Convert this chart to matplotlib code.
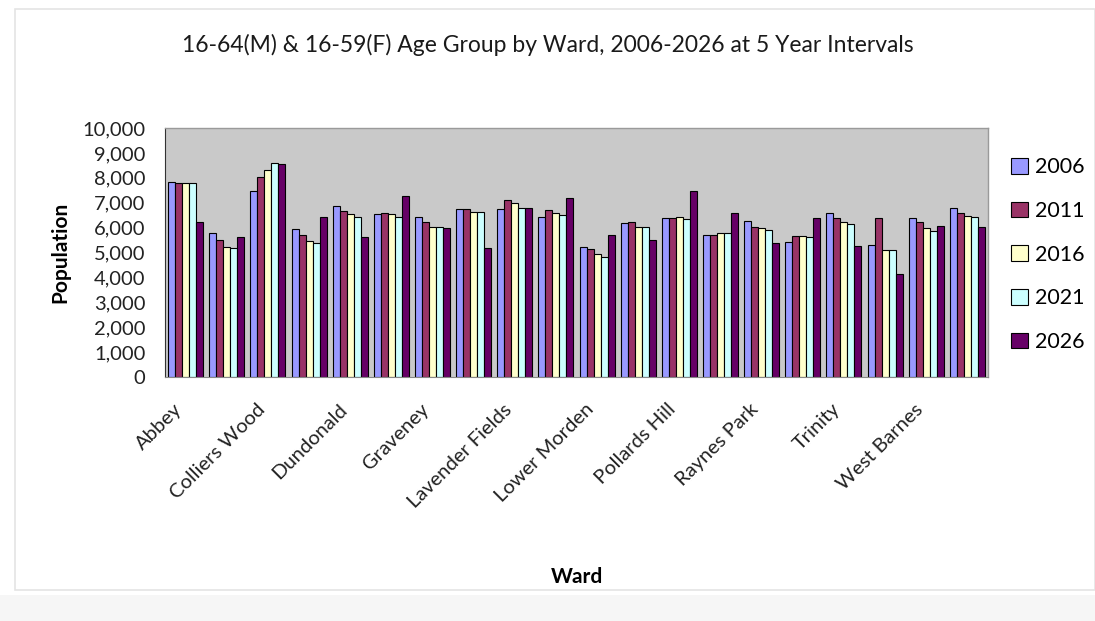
import numpy as np
import matplotlib
matplotlib.use("Agg")
import matplotlib.pyplot as plt
from matplotlib.patches import Rectangle
from matplotlib.ticker import FuncFormatter, MultipleLocator
from matplotlib.transforms import ScaledTranslation

wards = ["Abbey", "Cannon Hill", "Colliers Wood", "Cricket Green", "Dundonald",
         "Figge's Marsh", "Graveney", "Hillside", "Lavender Fields", "Longthornton",
         "Lower Morden", "Merton Park", "Pollards Hill", "Ravensbury", "Raynes Park",
         "St Helier", "Trinity", "Village", "West Barnes", "Wimbledon Park"]

years = ["2006", "2011", "2016", "2021", "2026"]

pop_2006 = [7850, 5800, 7450, 5950, 6850, 6530, 6420, 6760, 6760, 6430,
            5220, 6170, 6370, 5700, 6270, 5430, 6600, 5300, 6370, 6770]
pop_2011 = [7800, 5500, 8050, 5700, 6670, 6570, 6230, 6760, 7100, 6720,
            5130, 6230, 6390, 5700, 6030, 5660, 6370, 6370, 6230, 6590]
pop_2016 = [7780, 5230, 8330, 5460, 6530, 6530, 6030, 6610, 6970, 6570,
            4940, 6030, 6430, 5770, 5970, 5660, 6230, 5100, 5970, 6460]
pop_2021 = [7780, 5190, 8600, 5390, 6410, 6430, 6030, 6610, 6770, 6500,
            4830, 6030, 6330, 5770, 5900, 5610, 6140, 5100, 5870, 6430]
pop_2026 = [6230, 5630, 8570, 6430, 5630, 7270, 5970, 5170, 6770, 7170,
            5700, 5500, 7480, 6600, 5390, 6390, 5260, 4150, 6060, 6030]

series = [pop_2006, pop_2011, pop_2016, pop_2021, pop_2026]
colors = ["#9999FF", "#993366", "#FFFFCC", "#CCFFFF", "#660066"]

plt.rcParams["font.family"] = ["Lato", "DejaVu Sans"]

fig = plt.figure(figsize=(10.95, 6.21), dpi=100)
fig.patch.set_facecolor("white")

# faint outer frame of the chart area
fig.add_artist(Rectangle((15 / 1095, 1 - 590 / 621), 1080 / 1095, 581 / 621,
                         transform=fig.transFigure, fill=False,
                         edgecolor="#e4e4e4", linewidth=1.2))
fig.add_artist(Rectangle((0, 0), 1, 1 - 595 / 621, transform=fig.transFigure,
                         facecolor="#f6f6f6", edgecolor="none"))

ax = fig.add_axes([165 / 1095, 1 - 377 / 621, 823 / 1095, 249 / 621])
ax.set_facecolor("#C9C9C9")

n = len(wards)
x = np.arange(n)
width = 0.17
for i, (vals, c, yr) in enumerate(zip(series, colors, years)):
    ax.bar(x + (i - 2) * width, vals, width, color=c, edgecolor="black",
           linewidth=0.8, label=yr, zorder=2)

ax.set_xlim(-0.5, n - 0.5)
ax.set_ylim(0, 10000)
ax.yaxis.set_major_locator(MultipleLocator(1000))
ax.yaxis.set_major_formatter(FuncFormatter(lambda v, p: f"{int(v):,}"))
ax.tick_params(axis="y", length=0, labelsize=14.5, colors="#222222", pad=14)

ax.set_xticks(x[::2])
ax.set_xticklabels(wards[::2], rotation=45, ha="right", rotation_mode="anchor",
                   fontsize=14.5, color="#222222")
ax.tick_params(axis="x", length=0, pad=17)
shift = ScaledTranslation(-12 / 100, 0, fig.dpi_scale_trans)
for lbl in ax.get_xticklabels():
    lbl.set_transform(lbl.get_transform() + shift)

for side in ["top", "right"]:
    ax.spines[side].set_color("#9a9a9a")
    ax.spines[side].set_linewidth(1.0)
ax.spines["left"].set_color("#333333")
ax.spines["bottom"].set_color("#888888")

ax.set_ylabel("Population", fontsize=15, fontweight="bold", labelpad=9)
ax.set_xlabel("Ward", fontsize=15, fontweight="bold")
ax.xaxis.set_label_coords(0.5, -0.765)

fig.text(0.5, 1 - 45 / 621, "16-64(M) & 16-59(F) Age Group by Ward, 2006-2026 at 5 Year Intervals",
         ha="center", va="center", fontsize=16.5, color="#1a1a1a")

leg = ax.legend(loc="upper left", bbox_to_anchor=(1.005, 0.96), frameon=False,
                fontsize=15.5, handlelength=0.75, handleheight=0.75,
                labelspacing=1.1, handletextpad=0.35)

fig.savefig("out.png", dpi=100, facecolor=fig.get_facecolor())
